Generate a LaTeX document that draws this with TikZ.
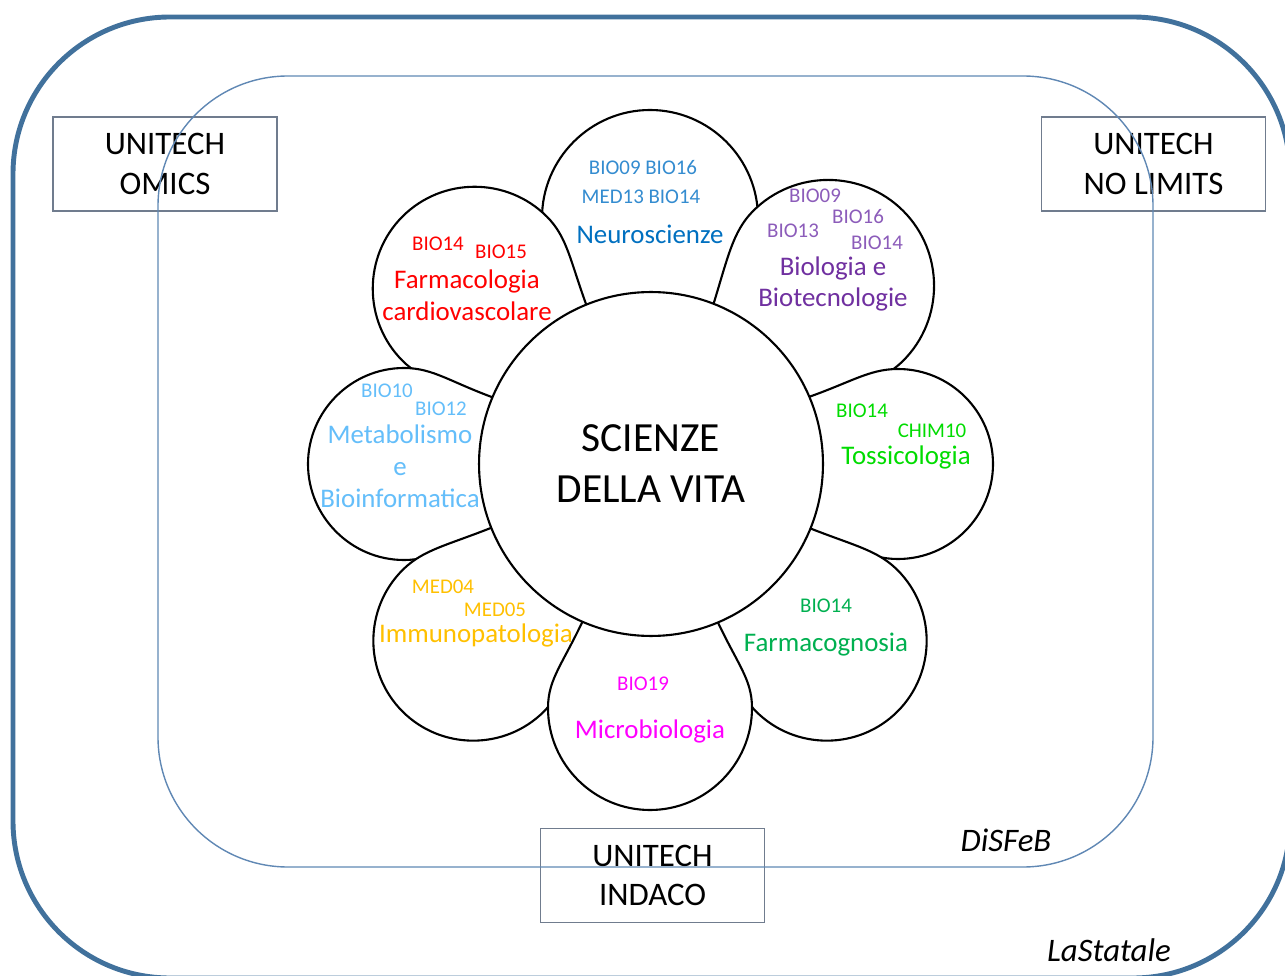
\documentclass[tikz,border=0pt]{standalone}
\usepackage{fontspec}
\setmainfont{Carlito}
\definecolor{outerblue}{RGB}{65,113,156}
\definecolor{innerblue}{RGB}{96,136,180}
\definecolor{boxgray}{RGB}{112,124,142}
\definecolor{neurocol}{RGB}{0,112,192}
\definecolor{neurocode}{RGB}{52,140,208}
\definecolor{farcol}{RGB}{255,0,0}
\definecolor{biocol}{RGB}{112,48,160}
\definecolor{biocode}{RGB}{140,92,186}
\definecolor{toxcol}{RGB}{0,220,0}
\definecolor{metcol}{RGB}{100,190,250}
\definecolor{immcol}{RGB}{255,192,0}
\definecolor{fgncol}{RGB}{0,176,80}
\definecolor{miccol}{RGB}{255,0,255}
\tikzset{
  unibox/.style={draw=boxgray, line width=0.8pt, rectangle, minimum width=4.48cm, minimum height=1.88cm, align=center, font=\fontsize{18.7}{22.7}\selectfont},
  code/.style={inner sep=0pt, font=\fontsize{11.9}{14}\selectfont},
  area/.style={inner sep=0pt, align=center, font=\fontsize{15.3}{18.1}\selectfont},
  petalline/.style={draw=black, line width=1.2pt, fill=white},
  place/.style={inner sep=0pt, font=\fontsize{18.7}{22}\selectfont\itshape}
}
% one petal: angle, half width, tip distance
\newcommand{\petal}[3]{%
  \begin{scope}[shift={(650,464)}, rotate=#1]
    \draw[petalline] (150,-64) .. controls (200,{-0.85*#2}) and ({#3-#2-30},-#2) .. ({#3-#2},-#2)
      .. controls ({#3-0.45*#2},-#2) and (#3,{-0.55*#2}) .. (#3,0)
      .. controls (#3,{0.55*#2}) and ({#3-0.45*#2},#2) .. ({#3-#2},#2)
      .. controls ({#3-#2-30},#2) and (200,{0.85*#2}) .. (150,64) -- cycle;
  \end{scope}}
\begin{document}
\begin{tikzpicture}[x=0.02cm, y=-0.02cm]
	\useasboundingbox (0,0) rectangle (1285,976);
	\draw[outerblue, line width=2.8pt, rounded corners=3.14cm] (13,17) rectangle (1290,978);
	\node[unibox] (omics) at (165,164) {UNITECH\\OMICS};
	\node[unibox] (nolimits) at (1153.5,164) {UNITECH\\NO LIMITS};
	\node[unibox] (indaco) at (652.5,875.5) {UNITECH\\INDACO};
	\draw[innerblue, line width=0.8pt, rounded corners=2.6cm] (158,76) rectangle (1153,867);
	% petals
	\petal{90}{108}{354}
	\petal{135}{102}{350}
	\petal{45}{106}{358}
	\petal{0}{95}{343}
	\petal{180}{96}{342}
	\petal{225}{100}{350}
	\petal{315}{100}{350}
	\petal{270}{102}{346}
	\node[draw, circle, line width=1.2pt, fill=white, minimum size=6.88cm, align=center, font=\fontsize{23.6}{29}\selectfont] (vita) at (651,464) {SCIENZE\\DELLA VITA};
	% Neuroscienze
	\node[code, neurocode] (neuA) at (643,168) {BIO09 BIO16};
	\node[code, neurocode] (neuB) at (641,197) {MED13 BIO14};
	\node[area, neurocol] (neuro) at (650,234) {Neuroscienze};
	% Farmacologia
	\node[code, farcol] (farA) at (438,244) {BIO14};
	\node[code, farcol] (farB) at (501,252) {BIO15};
	\node[area, farcol] (farmaco) at (467,295) {Farmacologia\\cardiovascolare};
	% Biologia
	\node[code, biocode] (bioA) at (815,196) {BIO09};
	\node[code, biocode] (bioB) at (858,217) {BIO16};
	\node[code, biocode] (bioC) at (793,231) {BIO13};
	\node[code, biocode] (bioD) at (877,243) {BIO14};
	\node[area, biocol] (biologia) at (833,284) {Biologia e\\Biotecnologie};
	% Tossicologia
	\node[code, toxcol] (toxA) at (862,411) {BIO14};
	\node[code, toxcol] (toxB) at (932,431) {CHIM10};
	\node[area, toxcol] (tossico) at (906,457) {Tossicologia};
	% Metabolismo
	\node[code, metcol] (metA) at (387,391) {BIO10};
	\node[code, metcol] (metB) at (441,409) {BIO12};
	\node[area, metcol] (metabol) at (400,466) {Metabolismo\\e\\Bioinformatica};
	% Immunopatologia
	\node[code, immcol] (immA) at (443,587) {MED04};
	\node[code, immcol] (immB) at (495,610) {MED05};
	\node[area, immcol] (immuno) at (476,635) {Immunopatologia};
	% Farmacognosia
	\node[code, fgncol] (fgnA) at (826,606) {BIO14};
	\node[area, fgncol] (farmacog) at (826,645) {Farmacognosia};
	% Microbiologia
	\node[code, miccol] (micA) at (643,684) {BIO19};
	\node[area, miccol] (micro) at (650,731) {Microbiologia};
	\node[place] (disfeb) at (1006,840) {DiSFeB};
	\node[place] (statale) at (1109,950) {LaStatale};
\end{tikzpicture}
\end{document}
